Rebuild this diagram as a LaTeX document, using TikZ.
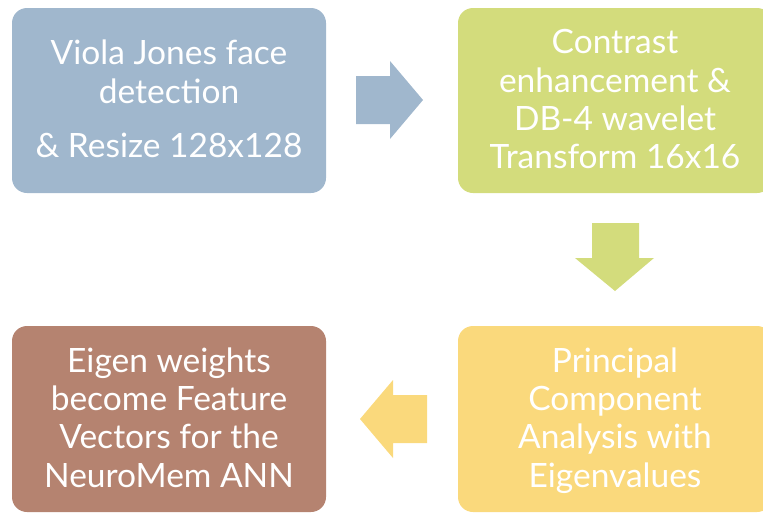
\documentclass[tikz,border=0pt]{standalone}
\usepackage{fontspec}
\setmainfont{Lato}
\definecolor{cblue}{RGB}{160,183,205}
\definecolor{cgreen}{RGB}{211,220,124}
\definecolor{cyellow}{RGB}{250,217,124}
\definecolor{cbrown}{RGB}{181,131,112}
\begin{document}
\begin{tikzpicture}[x=1pt,y=-1pt,
  box/.style={rounded corners=15pt},
  txt/.style={anchor=base,text=white,inner sep=0pt,font=\fontsize{33.5}{33.5}\selectfont}]
\useasboundingbox (0,0) rectangle (763,512);
\clip (0,0) rectangle (763,512);
% boxes
\fill[box,cblue]   (12,8) rectangle (326,193);
\fill[box,cgreen]  (458,8) rectangle (772,193);
\fill[box,cyellow] (458,326) rectangle (772,512);
\fill[box,cbrown]  (12,326) rectangle (326,512);
% block arrows
\fill[cblue] (356,76) -- (390,76) -- (390,61) -- (423,100) -- (390,139) -- (390,124) -- (356,124) -- cycle;
\fill[cgreen] (592,223) -- (639,223) -- (639,258) -- (654,258) -- (615,291) -- (575,258) -- (592,258) -- cycle;
\fill[cyellow] (427,395) -- (393,395) -- (393,380) -- (360,419) -- (393,458) -- (393,443) -- (427,443) -- cycle;
% texts
\node[txt] (a1) at (169,64) {Viola Jones face};
\node[txt] (a2) at (169,103) {detection};
\node[txt] (a3) at (169,157) {\& Resize 128x128};
\node[txt] (b1) at (615,53) {Contrast};
\node[txt] (b2) at (615,92) {enhancement \&};
\node[txt] (b3) at (615,130) {DB-4 wavelet};
\node[txt] (b4) at (615,168) {Transform 16x16};
\node[txt] (c1) at (615,372) {Principal};
\node[txt] (c2) at (615,410) {Component};
\node[txt] (c3) at (615,448) {Analysis with};
\node[txt] (c4) at (615,487) {Eigenvalues};
\node[txt] (d1) at (169,372) {Eigen weights};
\node[txt] (d2) at (169,410) {become Feature};
\node[txt] (d3) at (169,448) {Vectors for the};
\node[txt] (d4) at (169,487) {NeuroMem ANN};
\end{tikzpicture}
\end{document}
